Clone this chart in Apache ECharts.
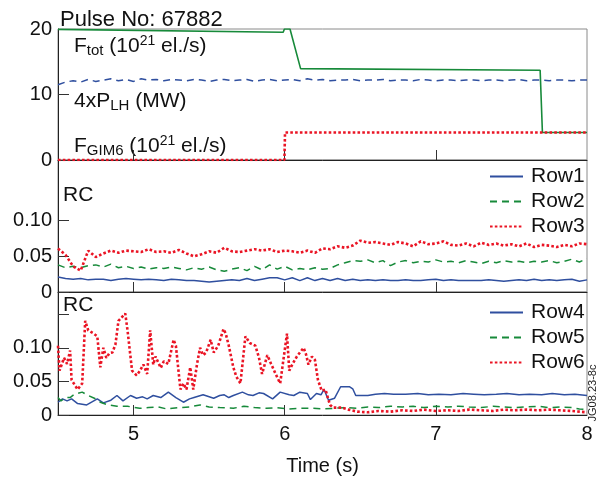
<!DOCTYPE html>
<html>
<head>
<meta charset="utf-8">
<script src="https://cdn.jsdelivr.net/npm/echarts@6/dist/echarts.min.js"></script>
<style>
html, body { margin: 0; padding: 0; background: #fff; }
#chart { width: 609px; height: 477px; }
</style>
</head>
<body>
<div id="chart"></div>
<script>
// Sample times (s) shared by the evenly sampled traces
const times = [
  4.50, 4.55, 4.60, 4.65, 4.70, 4.75, 4.80, 4.85, 4.90, 4.95,
  5.00, 5.05, 5.10, 5.15, 5.20, 5.25, 5.30, 5.35, 5.40, 5.45,
  5.50, 5.55, 5.60, 5.65, 5.70, 5.75, 5.80, 5.85, 5.90, 5.95,
  6.00, 6.05, 6.10, 6.15, 6.20, 6.25, 6.30, 6.35, 6.40, 6.45,
  6.50, 6.55, 6.60, 6.65, 6.70, 6.75, 6.80, 6.85, 6.90, 6.95,
  7.00, 7.05, 7.10, 7.15, 7.20, 7.25, 7.30, 7.35, 7.40, 7.45,
  7.50, 7.55, 7.60, 7.65, 7.70, 7.75, 7.80, 7.85, 7.90, 7.95,
  8.00
];

// Top panel: fuelling and heating waveforms
const fTot = [[4.50, 19.95], [5.99, 19.5], [5.998, 20.0], [6.035, 20.0], [6.105, 13.95], [7.69, 13.7], [7.705, 4.2], [8.00, 4.2]];
const pLH4 = [
  11.5, 11.9, 12.1, 11.9, 12.3, 12.0, 12.2, 12.4, 12.1, 12.3,
  12.0, 12.4, 12.2, 12.3, 12.1, 12.3, 12.2, 12.1, 12.3, 12.2,
  12.0, 12.2, 12.3, 12.1, 12.2, 12.3, 12.0, 12.2, 12.3, 12.1,
  12.2, 12.3, 12.1, 12.4, 12.2, 12.3, 12.1, 12.2, 12.2, 12.3,
  12.1, 12.2, 12.2, 12.3, 12.1, 12.2, 12.2, 12.1, 12.3, 12.2,
  12.1, 12.2, 12.2, 12.1, 12.2, 12.2, 12.1, 12.2, 12.2, 12.1,
  12.2, 12.3, 12.1, 12.2, 12.2, 12.1, 12.2, 12.2, 12.1, 12.2,
  12.2
];
const fGim6 = [[4.50, 0], [5.998, 0], [6.002, 4.2], [8.00, 4.2]];

// Middle panel: RC for rows 1-3
const row1 = [
  0.021, 0.019, 0.018, 0.019, 0.017, 0.018, 0.018, 0.016, 0.018, 0.019,
  0.018, 0.017, 0.018, 0.017, 0.016, 0.018, 0.017, 0.016, 0.016, 0.015,
  0.014, 0.015, 0.016, 0.017, 0.016, 0.019, 0.016, 0.018, 0.020, 0.020,
  0.017, 0.020, 0.016, 0.020, 0.016, 0.019, 0.016, 0.019, 0.016, 0.018,
  0.016, 0.017, 0.016, 0.017, 0.016, 0.016, 0.017, 0.016, 0.016, 0.017,
  0.018, 0.016, 0.017, 0.016, 0.016, 0.016, 0.016, 0.017, 0.016, 0.015,
  0.016, 0.017, 0.016, 0.018, 0.016, 0.017, 0.016, 0.017, 0.018, 0.015,
  0.017
];
const row2 = [
  0.038, 0.034, 0.036, 0.034, 0.037, 0.038, 0.035, 0.039, 0.034, 0.036,
  0.033, 0.035, 0.032, 0.034, 0.033, 0.035, 0.033, 0.031, 0.034, 0.032,
  0.035, 0.031, 0.029, 0.032, 0.034, 0.030, 0.036, 0.031, 0.038, 0.032,
  0.036, 0.031, 0.033, 0.031, 0.034, 0.032, 0.033, 0.038, 0.041, 0.044,
  0.043, 0.045, 0.041, 0.044, 0.037, 0.042, 0.044, 0.041, 0.043, 0.042,
  0.045, 0.042, 0.043, 0.041, 0.044, 0.042, 0.040, 0.043, 0.041, 0.044,
  0.042, 0.043, 0.041, 0.043, 0.042, 0.044, 0.041, 0.043, 0.046, 0.042,
  0.047
];
const row3 = [
  0.061, 0.052, 0.036, 0.030, 0.058, 0.049, 0.054, 0.058, 0.055, 0.058,
  0.057, 0.056, 0.060, 0.056, 0.057, 0.055, 0.059, 0.054, 0.050, 0.053,
  0.057, 0.055, 0.062, 0.057, 0.056, 0.058, 0.060, 0.058, 0.060, 0.056,
  0.058, 0.057, 0.055, 0.058, 0.055, 0.061, 0.060, 0.064, 0.062, 0.065,
  0.072, 0.069, 0.070, 0.068, 0.066, 0.070, 0.068, 0.064, 0.071, 0.067,
  0.068, 0.071, 0.066, 0.065, 0.068, 0.064, 0.069, 0.066, 0.068, 0.065,
  0.067, 0.064, 0.068, 0.063, 0.066, 0.065, 0.063, 0.066, 0.064, 0.068,
  0.067
];

// Bottom panel: RC for rows 4-6, [time, RC]
const row4 = [[4.50, 0.019], [4.53, 0.024], [4.56, 0.021], [4.59, 0.024], [4.63, 0.017], [4.69, 0.015], [4.76, 0.024], [4.80, 0.018], [4.85, 0.022], [4.89, 0.029], [4.93, 0.021], [4.98, 0.029], [5.02, 0.025], [5.06, 0.027], [5.09, 0.024], [5.13, 0.029], [5.18, 0.026], [5.23, 0.034], [5.28, 0.026], [5.33, 0.019], [5.37, 0.024], [5.40, 0.026], [5.46, 0.030], [5.53, 0.025], [5.57, 0.029], [5.60, 0.030], [5.63, 0.026], [5.66, 0.029], [5.72, 0.034], [5.76, 0.030], [5.79, 0.029], [5.83, 0.033], [5.86, 0.032], [5.92, 0.024], [5.97, 0.034], [6.03, 0.030], [6.06, 0.029], [6.10, 0.034], [6.15, 0.032], [6.17, 0.023], [6.21, 0.032], [6.24, 0.030], [6.26, 0.038], [6.29, 0.022], [6.33, 0.025], [6.37, 0.042], [6.43, 0.042], [6.45, 0.039], [6.47, 0.029], [6.55, 0.029], [6.60, 0.031], [6.66, 0.032], [6.72, 0.031], [6.80, 0.031], [6.88, 0.032], [6.95, 0.030], [7.02, 0.031], [7.10, 0.030], [7.18, 0.032], [7.25, 0.031], [7.32, 0.030], [7.40, 0.031], [7.47, 0.032], [7.55, 0.030], [7.62, 0.031], [7.70, 0.030], [7.77, 0.032], [7.85, 0.030], [7.92, 0.031], [8.00, 0.029]];
const row5 = [[4.50, 0.026], [4.52, 0.021], [4.55, 0.026], [4.58, 0.026], [4.61, 0.031], [4.66, 0.034], [4.70, 0.029], [4.75, 0.024], [4.78, 0.019], [4.83, 0.015], [4.89, 0.013], [4.96, 0.013], [5.04, 0.010], [5.10, 0.011], [5.16, 0.012], [5.22, 0.009], [5.30, 0.011], [5.37, 0.012], [5.44, 0.015], [5.50, 0.012], [5.57, 0.011], [5.66, 0.010], [5.73, 0.013], [5.80, 0.011], [5.88, 0.010], [5.95, 0.011], [6.03, 0.009], [6.10, 0.010], [6.18, 0.010], [6.25, 0.009], [6.33, 0.010], [6.40, 0.011], [6.48, 0.010], [6.55, 0.012], [6.62, 0.011], [6.70, 0.013], [6.78, 0.012], [6.85, 0.013], [6.92, 0.011], [7.00, 0.013], [7.08, 0.012], [7.15, 0.013], [7.22, 0.012], [7.30, 0.011], [7.38, 0.013], [7.45, 0.012], [7.52, 0.011], [7.60, 0.012], [7.68, 0.013], [7.75, 0.011], [7.82, 0.012], [7.90, 0.011], [7.95, 0.009], [8.00, 0.008]];
const row6 = [[4.50, 0.103], [4.51, 0.066], [4.54, 0.085], [4.56, 0.076], [4.58, 0.096], [4.59, 0.052], [4.61, 0.045], [4.63, 0.038], [4.66, 0.047], [4.68, 0.140], [4.70, 0.126], [4.73, 0.122], [4.76, 0.117], [4.78, 0.071], [4.80, 0.100], [4.82, 0.085], [4.84, 0.092], [4.86, 0.093], [4.88, 0.105], [4.90, 0.140], [4.945, 0.151], [4.96, 0.126], [4.99, 0.066], [5.02, 0.059], [5.04, 0.065], [5.065, 0.075], [5.09, 0.061], [5.11, 0.126], [5.13, 0.075], [5.145, 0.087], [5.18, 0.070], [5.20, 0.080], [5.23, 0.076], [5.265, 0.112], [5.28, 0.103], [5.31, 0.038], [5.33, 0.047], [5.35, 0.038], [5.375, 0.071], [5.395, 0.038], [5.42, 0.076], [5.44, 0.100], [5.46, 0.089], [5.48, 0.093], [5.51, 0.112], [5.53, 0.093], [5.56, 0.103], [5.595, 0.128], [5.61, 0.121], [5.63, 0.103], [5.66, 0.071], [5.68, 0.057], [5.707, 0.047], [5.74, 0.117], [5.77, 0.107], [5.806, 0.103], [5.83, 0.085], [5.85, 0.061], [5.885, 0.089], [5.91, 0.076], [5.94, 0.061], [5.97, 0.047], [5.99, 0.080], [6.015, 0.121], [6.03, 0.066], [6.05, 0.075], [6.08, 0.087], [6.125, 0.100], [6.14, 0.091], [6.157, 0.075], [6.18, 0.087], [6.20, 0.082], [6.22, 0.052], [6.245, 0.036], [6.27, 0.038], [6.29, 0.022], [6.30, 0.015], [6.32, 0.011], [6.38, 0.011], [6.42, 0.008], [6.48, 0.005], [6.55, 0.004], [6.62, 0.006], [6.70, 0.005], [6.78, 0.007], [6.85, 0.006], [6.92, 0.008], [7.00, 0.006], [7.08, 0.007], [7.15, 0.006], [7.22, 0.008], [7.30, 0.007], [7.38, 0.006], [7.45, 0.008], [7.52, 0.007], [7.60, 0.008], [7.68, 0.007], [7.75, 0.008], [7.82, 0.007], [7.90, 0.006], [7.95, 0.005], [8.00, 0.004]];

// Axis tick marks and labels
const timeTicks = [5, 6, 7];
const timeLabels = [5, 6, 7, 8];
const topTicks = [0, 10, 20];
const rcTicksMid = [0, 0.05, 0.10];
const rcTicksBot = [0, 0.05, 0.10, 0.15];
const rcLabels = [0, 0.05, 0.10];

const FONT = '"Liberation Sans", Arial, Helvetica, sans-serif';
const BLUE = '#2f4f9f';
const GREEN = '#178a3a';
const RED = '#ea1424';
const AXIS = '#222';
const FRAME = '#8a8a8a';

const withTimes = vals => vals.map((v, i) => [times[i], v]);

const L = 58, R = 22;
const grids = [
  { left: L, right: R, top: 29, height: 131 },
  { left: L, right: R, top: 160, height: 132 },
  { left: L, right: R, top: 292, height: 132 }
].map(g => Object.assign({ show: true, borderColor: FRAME, borderWidth: 1, backgroundColor: 'transparent' }, g));

function xAxis(i, last) {
  return {
    type: 'value', gridIndex: i, min: 4.5, max: 8,
    axisLine: { show: true, lineStyle: { color: AXIS, width: 1 } },
    axisTick: { show: true, inside: true, length: 10, customValues: timeTicks, lineStyle: { color: '#333' } },
    axisLabel: { show: last, customValues: timeLabels, margin: 9, color: '#111', fontSize: 20, fontFamily: FONT },
    splitLine: { show: false },
    name: last ? 'Time (s)' : '', nameLocation: 'middle', nameGap: 41,
    nameTextStyle: { color: '#111', fontSize: 20, fontFamily: FONT }
  };
}
function yAxis(i, max, ticks, labels, fmt) {
  return {
    type: 'value', gridIndex: i, min: 0, max: max,
    axisLine: { show: true, lineStyle: { color: AXIS, width: 1 } },
    axisTick: { show: true, inside: true, length: 11, customValues: ticks, lineStyle: { color: '#333' } },
    axisLabel: { customValues: labels, margin: 6, color: '#111', fontSize: 20, fontFamily: FONT, formatter: fmt },
    splitLine: { show: false }
  };
}
const rcFmt = v => (v === 0 ? '0' : v.toFixed(2));

function line(name, data, xi, color, width, type) {
  return {
    name: name, type: 'line', xAxisIndex: xi, yAxisIndex: xi, data: data,
    symbol: 'none', showSymbol: false, silent: true, animation: false,
    lineStyle: { color: color, width: width, type: type },
    itemStyle: { color: color }
  };
}

const DOT = [2.6, 2.2];
const DASH = [7, 5];

const richBase = { fontSize: 21, fontFamily: FONT, lineHeight: 24, color: '#111' };
const richSub = { fontSize: 15, fontFamily: FONT, lineHeight: 12, verticalAlign: 'bottom', color: '#111' };
const richSup = { fontSize: 14, fontFamily: FONT, lineHeight: 18, verticalAlign: 'top', color: '#111' };
const rich = { m: richBase, big: Object.assign({}, richBase, { fontSize: 22 }), sub: richSub, sup: richSup };

function label(x, y, text) {
  return {
    type: 'text', x: x, y: y, silent: true,
    style: { text: text, rich: rich, align: 'left', verticalAlign: 'middle', fill: '#111', font: '21px ' + FONT }
  };
}

// Legend shows only the line sample, no marker
const legendBase = {
  orient: 'vertical', left: 484,
  itemWidth: 33, itemHeight: 14, itemGap: 4, selectedMode: false,
  itemStyle: { opacity: 0, color: 'rgba(0,0,0,0)', borderWidth: 0 },
  textStyle: { fontSize: 21, fontFamily: FONT, color: '#111', padding: [0, 0, 0, 3] }
};

const chart = echarts.init(document.getElementById('chart'), null, { renderer: 'canvas' });
chart.setOption({
  animation: false,
  backgroundColor: '#fff',
  grid: grids,
  xAxis: [xAxis(0, false), xAxis(1, false), xAxis(2, true)],
  yAxis: [
    yAxis(0, 20, topTicks, topTicks, v => String(v)),
    yAxis(1, 0.185, rcTicksMid, rcLabels, rcFmt),
    yAxis(2, 0.183, rcTicksBot, rcLabels, rcFmt)
  ],
  legend: [
    Object.assign({ data: ['Row1', 'Row2', 'Row3'], top: 161 }, legendBase),
    Object.assign({ data: ['Row4', 'Row5', 'Row6'], top: 297 }, legendBase)
  ],
  series: [
    line('Ftot', fTot, 0, GREEN, 1.6, 'solid'),
    line('PLH', withTimes(pLH4), 0, BLUE, 1.5, DASH),
    line('FGIM6', fGim6, 0, RED, 2.6, DOT),
    line('Row1', withTimes(row1), 1, BLUE, 1.5, 'solid'),
    line('Row2', withTimes(row2), 1, GREEN, 1.5, DASH),
    line('Row3', withTimes(row3), 1, RED, 2.6, DOT),
    line('Row4', row4, 2, BLUE, 1.5, 'solid'),
    line('Row5', row5, 2, GREEN, 1.5, DASH),
    line('Row6', row6, 2, RED, 2.6, DOT)
  ],
  graphic: [
    label(60, 19.5, '{big|Pulse No: 67882}'),
    label(74, 46, '{m|F}{sub|tot}{m| (10}{sup|21}{m| el./s)}'),
    label(74, 101, '{m|4xP}{sub|LH}{m| (MW)}'),
    label(74, 146, '{m|F}{sub|GIM6}{m| (10}{sup|21}{m| el./s)}'),
    label(63, 195, '{m|RC}'),
    label(63, 305, '{m|RC}'),
    {
      type: 'text', x: 593, y: 393, rotation: Math.PI / 2, silent: true,
      style: { text: 'JG08.23-8c', align: 'center', verticalAlign: 'middle', fill: '#222', font: '11px ' + FONT }
    }
  ]
});
</script>
</body>
</html>
